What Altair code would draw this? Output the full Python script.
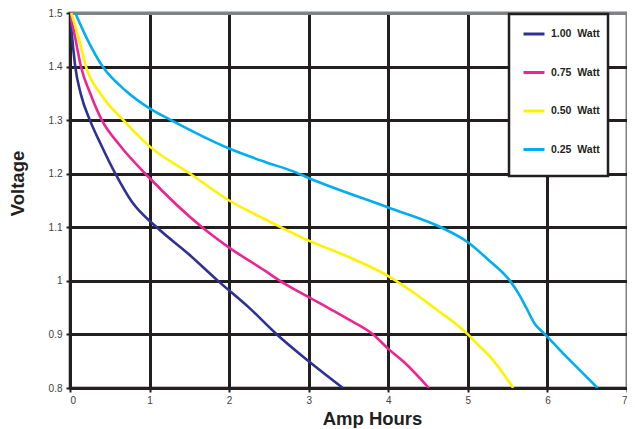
import altair as alt
import pandas as pd

# ---- data ----
series_names = ["1.00\u00a0 Watt", "0.75\u00a0 Watt", "0.50\u00a0 Watt", "0.25\u00a0 Watt"]
series_colors = ["#2e3192", "#ec268f", "#fff200", "#00aeef"]

amp_100 = [0, 0.03, 0.066, 0.137, 0.25, 0.39, 0.57, 0.78, 1.09, 1.49, 1.86, 2.25, 2.6, 3.0, 3.43]
volt_100 = [1.5, 1.45, 1.4, 1.348, 1.3, 1.254, 1.2, 1.147, 1.1, 1.05, 1.0, 0.95, 0.9, 0.85, 0.8]

amp_075 = [0, 0.07, 0.137, 0.26, 0.4, 0.62, 1.0, 1.66, 2.0, 2.45, 2.64, 3.08, 3.49, 3.81, 4.0, 4.2, 4.51]
volt_075 = [1.5, 1.45, 1.4, 1.348, 1.3, 1.254, 1.192, 1.1, 1.062, 1.019, 1.0, 0.963, 0.929, 0.9, 0.873, 0.848, 0.8]

amp_050 = [0.015, 0.116, 0.2, 0.39, 0.67, 1.0, 1.51, 2.0, 2.45, 3.0, 3.51, 4.0, 4.28, 4.6, 4.87, 5.0, 5.12, 5.3, 5.57]
volt_050 = [1.5, 1.45, 1.4, 1.348, 1.3, 1.251, 1.2, 1.15, 1.115, 1.075, 1.044, 1.009, 0.982, 0.947, 0.917, 0.9, 0.882, 0.855, 0.8]

amp_025 = [0.066, 0.23, 0.41, 0.70, 1.0, 1.27, 2.0, 2.45, 2.83, 3.0, 4.0, 4.66, 5.0, 5.26, 5.53, 5.63, 5.74, 5.84, 5.95, 6.01, 6.2, 6.41, 6.63]
volt_025 = [1.5, 1.447, 1.4, 1.355, 1.322, 1.3, 1.247, 1.222, 1.203, 1.192, 1.137, 1.1, 1.072, 1.039, 1.0, 0.978, 0.948, 0.92, 0.903, 0.894, 0.864, 0.833, 0.8]

x_ticks = [0, 1, 2, 3, 4, 5, 6, 7]
y_ticks = [0.8, 0.9, 1.0, 1.1, 1.2, 1.3, 1.4, 1.5]

frames = []
for name, xs, ys in zip(series_names,
                        [amp_100, amp_075, amp_050, amp_025],
                        [volt_100, volt_075, volt_050, volt_025]):
    frames.append(pd.DataFrame({"series": name, "amp": xs, "volt": ys, "idx": range(len(xs))}))
df = pd.concat(frames, ignore_index=True)

INK = "#231f20"
GRAY = "#808285"
FONT = "Liberation Sans"

x_axis = alt.Axis(
    values=x_ticks, title="Amp Hours", format="d",
    grid=True, gridColor=alt.condition("datum.value == 7", alt.value(GRAY), alt.value(INK)),
    gridWidth=3, domainColor=INK, domainWidth=3,
    tickColor=INK, tickSize=4, tickWidth=2,
    labelFont=FONT, labelFontSize=10, labelColor="#414042", labelPadding=3,
    titleFont=FONT, titleFontSize=18.5, titleFontWeight="bold", titleColor=INK,
    titleX=302, titleY=36, titleAlign="center", titleBaseline="alphabetic",
)
y_axis = alt.Axis(
    values=y_ticks, title="Voltage", format=".1~f",
    grid=True, gridColor=alt.condition("datum.value >= 1.5", alt.value(GRAY), alt.value(INK)),
    gridWidth=3, domainColor=INK, domainWidth=3,
    tickColor=INK, tickSize=4, tickWidth=2,
    labelFont=FONT, labelFontSize=10, labelColor="#414042", labelPadding=4,
    titleFont=FONT, titleFontSize=18.5, titleFontWeight="bold", titleColor=INK,
    titleAngle=-90, titleX=-47, titleY=170, titleAlign="center", titleBaseline="alphabetic",
)

chart = alt.Chart(df).mark_line(strokeWidth=2.6, interpolate="monotone", clip=True).encode(
    x=alt.X("amp:Q", scale=alt.Scale(domain=[0, 7], nice=False, zero=False), axis=x_axis),
    y=alt.Y("volt:Q", scale=alt.Scale(domain=[0.8, 1.5], nice=False, zero=False), axis=y_axis),
    color=alt.Color(
        "series:N",
        scale=alt.Scale(domain=series_names, range=series_colors),
        legend=alt.Legend(
            title="\u00a0", titleOrient="bottom", titleFontSize=2, titlePadding=10,
            orient="none", legendX=439, legendY=1,
            symbolType="stroke", symbolSize=441, symbolStrokeWidth=3, symbolOffset=5,
            labelFont=FONT, labelFontSize=10.5, labelFontWeight="bold", labelColor=INK,
            labelExpr="datum.label + '\u00a0\u00a0'",
            labelOffset=5, padding=8, rowPadding=20.5,
            strokeColor=INK, fillColor="white",
        ),
    ),
    order="idx:Q",
).properties(
    width=557, height=375,
    autosize=alt.AutoSizeParams(type="none"),
    padding={"left": 62, "top": 5, "right": 0, "bottom": 40},
).configure_view(
    stroke=GRAY, strokeWidth=3
).configure_legend(
    strokeWidth=2.5
)

chart.save("out.html", embed_options={"renderer": "svg", "actions": False})
